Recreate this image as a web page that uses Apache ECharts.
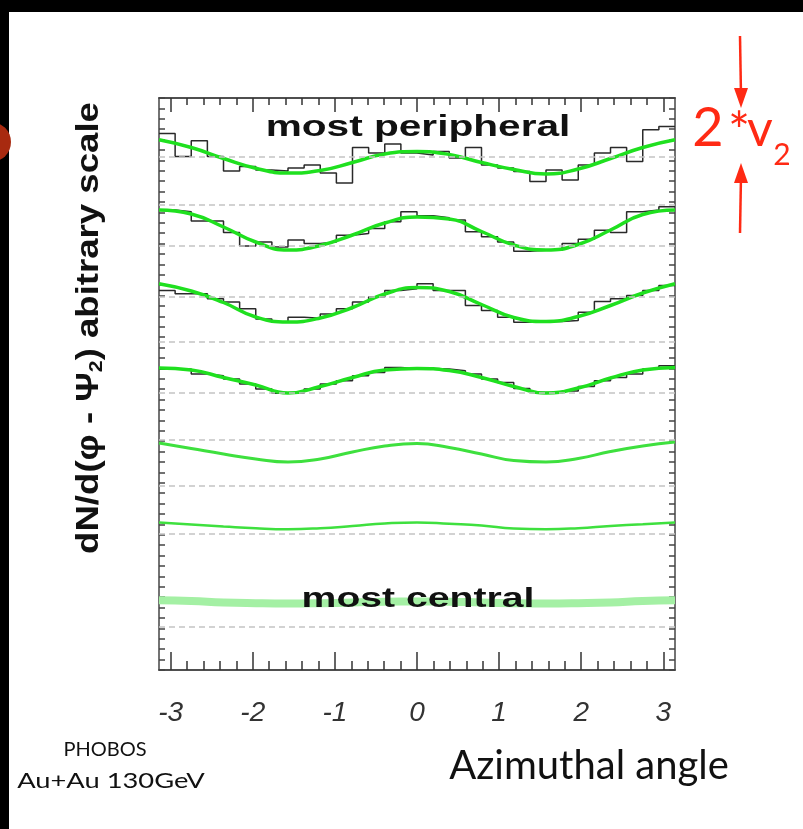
<!DOCTYPE html>
<html><head><meta charset="utf-8">
<script src="https://cdn.jsdelivr.net/npm/echarts@6/dist/echarts.min.js"></script>
<style>html,body{margin:0;padding:0;background:#fff}#c{width:803px;height:829px}</style>
</head><body><div id="c"></div>
<script>
// Azimuthal angle samples (rad) for the fitted curves
const phi = [-3.1416,-2.7489,-2.3562,-1.9635,-1.5708,-1.1781,-0.7854,-0.3927,0,0.3927,0.7854,1.1781,1.5708,1.9635,2.3562,2.7489,3.1416];
// fitted (green) curves, arbitrary scale, most peripheral first
const fit1 = [530.2,522.5,511.5,501.7,497,499.5,507.5,516,518.5,515.5,507.5,500.5,496,501,511.5,522.5,530.2];
const fit2 = [460,456,443,428,420,424.5,435,447,453,451,438.5,425,420,425.5,440,455.5,460];
const fit3 = [386.3,379,367.5,353,348,352,362.5,376,382.5,378.5,365.5,352.5,348.5,353.5,364.5,377,386.3];
const fit4 = [302,300,292.5,285,277,283.5,292.5,300,301.6,299.5,292.5,283.5,277,282,292,300,302.6];
const fit5 = [227,221.5,216,211,208,211,218,224,226.5,222.5,216,209.5,208,211.5,218.5,224,228];
const fit6 = [147.6,145.5,143.5,141.7,140.8,141.8,144,146.5,147.6,146.2,144.5,141.5,140.8,141.8,144,145.8,147.6];
const fit7 = [69.8,69,67.5,66.8,66.5,66.8,67.5,68.3,68.5,68.3,67.5,66.8,66.5,66.8,67.5,69,69.8];
// histograms (32 bins over -pi..pi)
const hist1 = [536.5,513.5,529.2,513.5,499.1,503.5,500,499,502,505,497,487,522.5,517,526,517,515,518.5,512,522.5,505,502,498.5,488.4,500,490,505,517,522.5,508.5,540.3,543.6];
const hist2 = [460,458.3,449,449,437.5,424.1,428.1,423,430,426.5,428,434.8,436.5,441.5,448.2,458.3,454.2,452.2,450,438.2,433.2,428.1,418.8,419.8,419.8,426.5,430.8,439.8,437.5,458.3,460,463.3];
const hist3 = [379.6,376.2,376.2,371.2,367.9,361.2,351.1,347.8,352.8,351.8,356.1,361.2,367.9,372.9,379.6,381.3,386.3,379.6,379.6,364.5,359.5,352.8,347.8,348.5,348.5,349.5,357.8,368.5,371.2,374.6,379.6,384.6];
const hist4 = [301,301,296,294.2,291,286,281,276.8,276.8,281,286,289.2,294.2,297.6,302.6,301.6,301.6,301,299.2,296,291,287.5,281.5,277.5,276.8,279.1,283.5,289.2,292.5,296,301,304.3];
// dashed reference levels
const gridLevels = [513.5,465,424.5,373.5,328.7,277.3,230,183.8,136.5,43.6];
// x tick values
const majorTicks = [-3,-2,-1,0,1,2,3];
const minorTicks = [-2.8,-2.6,-2.4,-2.2,-1.8,-1.6,-1.4,-1.2,-0.8,-0.6,-0.4,-0.2,0.2,0.4,0.6,0.8,1.2,1.4,1.6,1.8,2.2,2.4,2.6,2.8];

const nBins = hist1.length;
const binLeft = Array.from({length:nBins},(_,i)=>-Math.PI + i*2*Math.PI/nBins);
function stepData(h){ const d = binLeft.map((x,i)=>[x,h[i]]); d.push([Math.PI,h[h.length-1]]); return d; }
function fitData(f){ return phi.map((x,i)=>[x,f[i]]); }

const chart = echarts.init(document.getElementById('c'), null, {renderer:'canvas'});
const frame = {show:true, onZero:false, lineStyle:{color:'#444', width:1.5}};
function xa(pos, ticks, len, labels){
  return {type:'value', position:pos, min:-Math.PI, max:Math.PI,
    axisLine: frame, splitLine:{show:false},
    axisTick:{show:true, inside:true, length:len, customValues:ticks, lineStyle:{color:'#333', width:1.5}},
    axisLabel: labels ? {show:true, customValues:majorTicks, fontFamily:'Liberation Sans', fontStyle:'italic', fontSize:28, color:'#333', margin:29,
       formatter:v=>String(Math.round(v))} : {show:false}};
}
function ya(pos){
  return {type:'value', position:pos, min:0, max:572, interval:10.4,
    axisLine: frame, splitLine:{show:false}, axisLabel:{show:false},
    axisTick:{show:true, inside:true, length:6, lineStyle:{color:'#444', width:1.5}}};
}
const green = '#1fe01f';
function fitSeries(f, color, width){
  return {type:'line', data:fitData(f), smooth:0.5, symbol:'none', xAxisIndex:0, yAxisIndex:0, z:4,
    lineStyle:{color:color, width:width}};
}
function histSeries(h){
  return {type:'line', data:stepData(h), step:'end', symbol:'none', xAxisIndex:0, yAxisIndex:0, z:3,
    lineStyle:{color:'#2a2a2a', width:1.5}};
}
const red = '#ff2a14';
const option = {
  animation:false,
  backgroundColor:'#fff',
  grid:{left:159, right:128, top:98, bottom:159},
  xAxis:[xa('bottom', majorTicks, 18, true), xa('bottom', minorTicks, 9, false), xa('top', majorTicks, 14, false), xa('top', minorTicks, 7, false)],
  yAxis:[ya('left'), ya('right')],
  series:[
    {type:'line', data:[], xAxisIndex:0, yAxisIndex:0, z:1,
      markLine:{silent:true, symbol:'none', label:{show:false},
        lineStyle:{color:'#c4c4c4', type:[6,4], width:1.5},
        data: gridLevels.map(v=>({yAxis:v}))}},
    histSeries(hist1), histSeries(hist2), histSeries(hist3), histSeries(hist4),
    fitSeries(fit1, green, 3.5), fitSeries(fit2, green, 3.5), fitSeries(fit3, green, 3.5), fitSeries(fit4, green, 3.5),
    fitSeries(fit5, '#3ee03e', 3), fitSeries(fit6, '#3ee03e', 2.5), fitSeries(fit7, '#a4f0a4', 8)
  ],
  graphic:[
    {type:'rect', shape:{x:0,y:0,width:803,height:12}, style:{fill:'#000'}, z:50},
    {type:'rect', shape:{x:0,y:0,width:9,height:829}, style:{fill:'#000'}, z:50},
    {type:'circle', shape:{cx:-9,cy:142,r:20}, style:{fill:'#a82a10'}, z:51},
    {type:'text', x:418, y:128, scaleX:1.4, z:60, style:{text:'most peripheral', font:'bold 29px "Liberation Sans"', fill:'#111', textAlign:'center', textVerticalAlign:'middle'}},
    {type:'text', x:418, y:600, scaleX:1.45, z:60, style:{text:'most central', font:'bold 27px "Liberation Sans"', fill:'#111', textAlign:'center', textVerticalAlign:'middle'}},
    {type:'text', x:89, y:328, rotation:Math.PI/2, scaleX:1.18, z:60, style:{
      text:'{n|dN/d(φ - Ψ}{s|2}{n|) abitrary scale}', textAlign:'center', textVerticalAlign:'middle',
      rich:{n:{font:'bold 31px "Liberation Sans"', fill:'#111'}, s:{font:'bold 18px "Liberation Sans"', fill:'#111', padding:[16,0,0,0]}}}},
    {type:'text', x:105, y:750, z:60, style:{text:'PHOBOS', font:'20px Lato', fill:'#111', textAlign:'center', textVerticalAlign:'middle'}},
    {type:'text', x:111, y:781, scaleX:1.3, z:60, style:{text:'Au+Au 130GeV', font:'21px Lato', fill:'#111', textAlign:'center', textVerticalAlign:'middle'}},
    {type:'text', x:589, y:766, z:60, style:{text:'Azimuthal angle', font:'40px Lato', fill:'#111', textAlign:'center', textVerticalAlign:'middle'}},
    // red annotation
    {type:'text', x:708, y:129, z:60, style:{text:'2', font:'54px Lato', fill:red, textAlign:'center', textVerticalAlign:'middle'}},
    {type:'text', x:739, y:133, z:60, style:{text:'*', font:'52px Lato', fill:red, textAlign:'center', textVerticalAlign:'middle'}},
    {type:'text', x:760, y:130, z:60, style:{text:'v', font:'50px Lato', fill:red, textAlign:'center', textVerticalAlign:'middle'}},
    {type:'text', x:782, y:155, z:60, style:{text:'2', font:'30px Lato', fill:red, textAlign:'center', textVerticalAlign:'middle'}},
    {type:'line', shape:{x1:740,y1:36,x2:741,y2:96}, style:{stroke:red, lineWidth:2.5}, z:60},
    {type:'polygon', shape:{points:[[734,88],[748,88],[741,108]]}, style:{fill:red}, z:60},
    {type:'line', shape:{x1:741,y1:175,x2:740,y2:233}, style:{stroke:red, lineWidth:2.5}, z:60},
    {type:'polygon', shape:{points:[[734,183],[748,183],[741,163]]}, style:{fill:red}, z:60}
  ]
};
chart.setOption(option);
</script></body></html>
